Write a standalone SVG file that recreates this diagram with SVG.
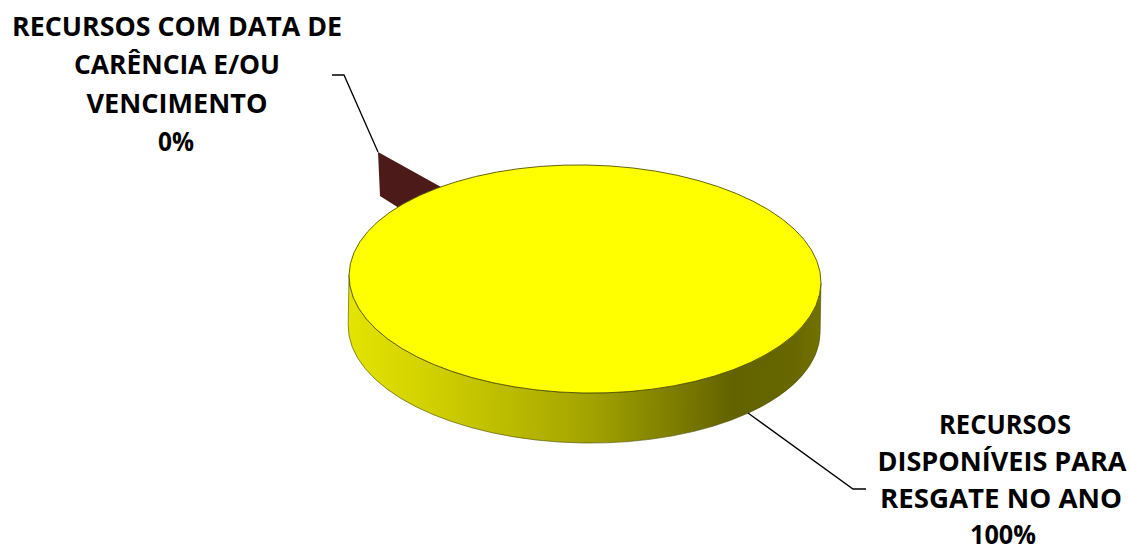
<svg xmlns="http://www.w3.org/2000/svg" width="1131" height="551" viewBox="0 0 1131 551">
<style>
.lbl{font-family:"Open Sans","Liberation Sans",sans-serif;font-weight:bold;font-size:27px;fill:#000;text-anchor:middle}
.lead{fill:none;stroke:#000;stroke-width:1.3}
</style>
<defs>
<linearGradient id="side" gradientUnits="userSpaceOnUse" x1="349" y1="0" x2="821" y2="0">
<stop offset="0" stop-color="#e4e400"/>
<stop offset="0.15" stop-color="#d4d400"/>
<stop offset="0.35" stop-color="#baba00"/>
<stop offset="0.52" stop-color="#a2a200"/>
<stop offset="0.68" stop-color="#808000"/>
<stop offset="0.82" stop-color="#626200"/>
<stop offset="0.95" stop-color="#686800"/>
<stop offset="1" stop-color="#727200"/>
</linearGradient>
</defs>
<rect width="1131" height="551" fill="#fff"/>
<g id="slice-carencia">
<polygon points="378,152 380,196 399,208 450,190 441,187" fill="#4d1a1a"/>
</g>
<g id="slice-disponiveis" transform="rotate(1 585 279)">
<path d="M349,279 A236,114 0 0 0 821,279 L821,329 A236,114 0 0 1 349,329 Z" fill="url(#side)" stroke="#4a4a00" stroke-width="0.6"/>
<ellipse cx="585" cy="279" rx="236" ry="114" fill="#ffff00" stroke="#555500" stroke-width="0.9"/>
</g>
<g id="connectors">
<polyline class="lead" points="332,75 344,75 378,152"/>
<polyline class="lead" points="748,413 853,489 866,489"/>
</g>
<g id="label-carencia">
<text class="lbl" x="177" y="36" textLength="330" lengthAdjust="spacingAndGlyphs">RECURSOS COM DATA DE</text>
<text class="lbl" x="177" y="74" textLength="206" lengthAdjust="spacingAndGlyphs">CARÊNCIA E/OU</text>
<text class="lbl" x="177" y="113" textLength="181" lengthAdjust="spacingAndGlyphs">VENCIMENTO</text>
<text class="lbl" x="176" y="151" textLength="36" lengthAdjust="spacingAndGlyphs">0%</text>
</g>
<g id="label-disponiveis">
<text class="lbl" x="1005" y="434" textLength="132" lengthAdjust="spacingAndGlyphs">RECURSOS</text>
<text class="lbl" x="1002" y="471" textLength="249" lengthAdjust="spacingAndGlyphs">DISPONÍVEIS PARA</text>
<text class="lbl" x="1001" y="508" textLength="242" lengthAdjust="spacingAndGlyphs">RESGATE NO ANO</text>
<text class="lbl" x="1003" y="544" textLength="66" lengthAdjust="spacingAndGlyphs">100%</text>
</g>
</svg>
